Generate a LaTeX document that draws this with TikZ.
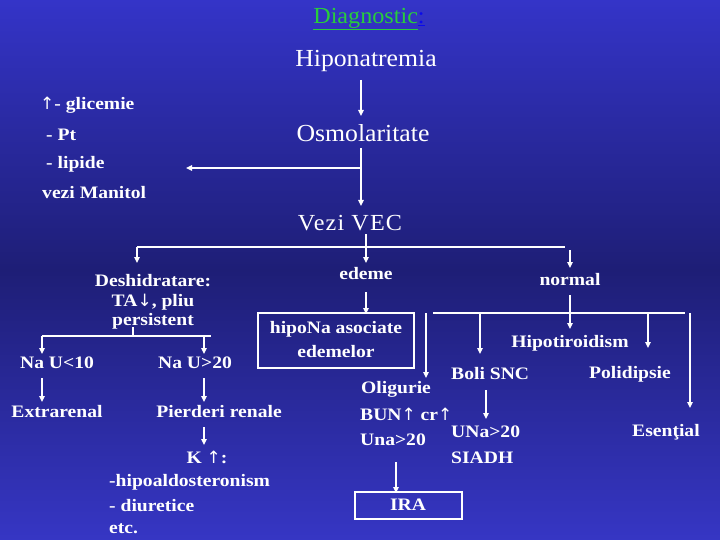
\documentclass[tikz,border=0pt]{standalone}
\usepackage{fontspec}
\setmainfont[FakeStretch=1.12]{Liberation Serif}
\newfontfamily\headfont[FakeStretch=1.05]{Liberation Serif}
\newfontfamily\arrowfont{DejaVu Sans}
\newcommand{\upar}{{\arrowfont\mdseries\fontsize{17}{19}\selectfont ↑}}
\newcommand{\dnar}{{\arrowfont\mdseries\fontsize{17}{19}\selectfont ↓}}
\usetikzlibrary{arrows.meta}
\definecolor{bgtop}{RGB}{52,52,200}
\definecolor{bgmid}{RGB}{30,30,118}
\definecolor{bgbot}{RGB}{54,54,196}
\definecolor{dgreen}{RGB}{40,205,60}
\definecolor{dblue}{RGB}{10,10,235}
\begin{document}
\begin{tikzpicture}[x=1pt,y=-1pt,
  big/.style={text=white,inner sep=0pt,font=\headfont\fontsize{24.5}{26}\selectfont},
  lab/.style={text=white,inner sep=0pt,font=\fontsize{17.5}{19}\selectfont\bfseries},
  ln/.style={white,line width=1.3pt},
  arr/.style={white,line width=1.3pt,-{Triangle[length=6pt,width=5.5pt]}},
  boxl/.style={white,line width=1.1pt}]
\shade[top color=bgtop,bottom color=bgbot,middle color=bgmid] (0,0) rectangle (720,540);
\useasboundingbox (0,0) rectangle (720,540);
% title
\node[big,font=\headfont\fontsize{23}{25}\selectfont] (title) at (369,19) {\textcolor{dgreen}{\underline{Diagnostic}}\textcolor{dblue}{\underline{:}}};
\node[big] (hipo) at (366,61) {Hiponatremia};
\node[big] (osm) at (363,133) {Osmolaritate};
\node[big,font=\headfont\fontsize{23}{25}\selectfont\addfontfeature{LetterSpace=5}] (vec) at (350,223) {Vezi VEC};
% left list
\node[lab,anchor=west] (glic) at (40,105) {\upar- glicemie};
\node[lab,anchor=west] (pt) at (46,135) {- Pt};
\node[lab,anchor=west] (lip) at (46,164) {- lipide};
\node[lab,anchor=west] (man) at (42,193) {vezi Manitol};
% left branch
\node[lab] (desh) at (153,281) {Deshidratare:};
\node[lab] (ta) at (153,302) {TA\dnar, pliu};
\node[lab] (pers) at (153,321) {persistent};
\node[lab] (nau10) at (57,363) {Na U<10};
\node[lab] (nau20) at (195,363) {Na U>20};
\node[lab] (extra) at (57,412) {Extrarenal};
\node[lab] (pierd) at (219,412) {Pierderi renale};
\node[lab] (k) at (207,457) {K \upar:};
\node[lab,anchor=west] (hal) at (109,482) {-hipoaldosteronism};
\node[lab,anchor=west] (diu) at (109,506) {- diuretice};
\node[lab,anchor=west] (etc) at (109,529) {etc.};
% middle branch
\node[lab] (edeme) at (366,274) {edeme};
\draw[boxl] (258,313) rectangle (414,368);
\node[lab] (asoc1) at (336,329) {hipoNa asociate};
\node[lab] (asoc2) at (336,352) {edemelor};
\node[lab,anchor=west] (olig) at (361,389) {Oligurie};
\node[lab,anchor=west] (bun) at (360,414) {BUN\upar\ cr\upar};
\node[lab,anchor=west] (una) at (360,440) {Una>20};
\draw[boxl] (355,492) rectangle (462,519);
\node[lab] (ira) at (408,505) {IRA};
% right branch
\node[lab] (norm) at (570,280) {normal};
\node[lab] (hipot) at (570,343) {Hipotiroidism};
\node[lab,anchor=west] (boli) at (451,374) {Boli SNC};
\node[lab,anchor=west] (poli) at (589,374) {Polidipsie};
\node[lab,anchor=west] (unar) at (451,432) {UNa>20};
\node[lab,anchor=west] (siadh) at (451,458) {SIADH};
\node[lab,anchor=west] (esen) at (632,432) {Esenţial};
% coordinates
\coordinate (a1) at (361,80);  \coordinate (a2) at (361,116);
\coordinate (b1) at (361,148); \coordinate (b2) at (361,206);
\coordinate (bj) at (361,168); \coordinate (bl) at (186,168);
\coordinate (c1) at (366,234); \coordinate (c2) at (366,263);
\coordinate (cl) at (137,247); \coordinate (cl2) at (137,263);
\coordinate (cr) at (565,247);
\coordinate (cr1) at (570,250); \coordinate (cr2) at (570,268);
\coordinate (d1) at (133,327); \coordinate (dj) at (133,336);
\coordinate (dl) at (42,336); \coordinate (dr) at (211,336);
\coordinate (dl2) at (42,354); \coordinate (dr1) at (204,336); \coordinate (dr2) at (204,354);
\coordinate (e1) at (42,378); \coordinate (e2) at (42,402);
\coordinate (f1) at (204,378); \coordinate (f2) at (204,402);
\coordinate (g1) at (204,427); \coordinate (g2) at (204,445);
\coordinate (h1) at (366,292); \coordinate (h2) at (366,314);
\coordinate (i1) at (426,313); \coordinate (i2) at (426,378);
\coordinate (j1) at (396,462); \coordinate (j2) at (396,493);
\coordinate (k1) at (570,295); \coordinate (k2) at (570,329);
\coordinate (ml) at (433,313); \coordinate (mr) at (685,313);
\coordinate (m1) at (480,313); \coordinate (m2) at (480,354);
\coordinate (n1) at (648,313); \coordinate (n2) at (648,348);
\coordinate (o1) at (690,313); \coordinate (o2) at (690,408);
\coordinate (p1) at (486,390); \coordinate (p2) at (486,419);
% connectors
\draw[arr] (a1) -- (a2);
\draw[arr] (b1) -- (b2);
\draw[arr] (bj) -- (bl);
\draw[arr] (c1) -- (c2);
\draw[ln] (cl) -- (cr);
\draw[arr] (cl) -- (cl2);
\draw[arr] (cr1) -- (cr2);
\draw[ln] (d1) -- (dj);
\draw[ln] (dl) -- (dr);
\draw[arr] (dl) -- (dl2);
\draw[arr] (dr1) -- (dr2);
\draw[arr] (e1) -- (e2);
\draw[arr] (f1) -- (f2);
\draw[arr] (g1) -- (g2);
\draw[arr] (h1) -- (h2);
\draw[arr] (i1) -- (i2);
\draw[arr] (j1) -- (j2);
\draw[arr] (k1) -- (k2);
\draw[ln] (ml) -- (mr);
\draw[arr] (m1) -- (m2);
\draw[arr] (n1) -- (n2);
\draw[arr] (o1) -- (o2);
\draw[arr] (p1) -- (p2);
\end{tikzpicture}
\end{document}
